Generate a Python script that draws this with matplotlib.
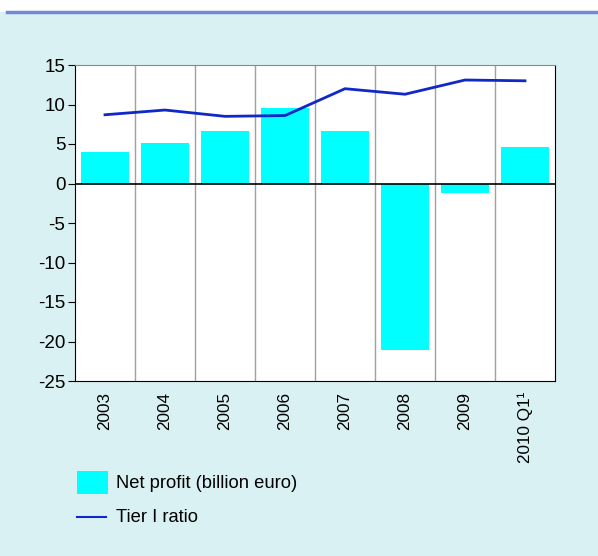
import matplotlib
matplotlib.use("Agg")
import matplotlib.pyplot as plt
from matplotlib.patches import Rectangle
from matplotlib.lines import Line2D

plt.rcParams['font.family'] = ['Liberation Sans', 'DejaVu Sans']
plt.rcParams['axes.unicode_minus'] = False

years = ['2003', '2004', '2005', '2006', '2007', '2008', '2009', '2010 Q1¹']
net_profit = [4.0, 5.1, 6.6, 9.6, 6.6, -21.1, -1.2, 4.6]
tier1 = [8.7, 9.3, 8.5, 8.6, 12.0, 11.3, 13.1, 13.0]

bg = '#d9f1f2'
fig = plt.figure(figsize=(5.98, 5.56), dpi=100, facecolor=bg)
# white strip on top with the blue rule
fig.patches.append(Rectangle((0, 1 - 12 / 556), 1, 12 / 556, transform=fig.transFigure,
                             facecolor='white', edgecolor='none', zorder=0))
fig.lines.append(Line2D([7 / 598, 1], [1 - 12 / 556] * 2, transform=fig.transFigure,
                        color='#7487d8', lw=2.5))

ax = fig.add_axes([75 / 598, 1 - 381 / 556, 480 / 598, 316 / 556])
ax.set_facecolor('white')
x = range(len(years))
ax.bar(x, net_profit, width=0.8, color='#00ffff', zorder=2)
ax.plot(x, tier1, color='#1028c8', lw=2, zorder=3)
ax.axhline(0, color='black', lw=1.2, zorder=4)
for b in range(1, len(years)):
    ax.axvline(b - 0.5, color='#a0a0a0', lw=1, zorder=1)

ax.set_xlim(-0.5, len(years) - 0.5)
ax.set_ylim(-25, 15)
ax.set_yticks(range(-25, 16, 5))
ax.set_xticks(list(x))
ax.set_xticklabels(years, rotation=90, fontsize=12.3, va='top')
ax.tick_params(axis='x', length=0, pad=8)
ax.tick_params(axis='y', length=5, labelsize=13.5, pad=2)
ax.spines['top'].set_color('#888888')
for s in ['left', 'right', 'bottom']:
    ax.spines[s].set_color('black')

# legend drawn in figure space
fig.patches.append(Rectangle((77 / 598, 1 - 494 / 556), 31 / 598, 23 / 556,
                             transform=fig.transFigure, facecolor='#00ffff', edgecolor='none'))
fig.text(116 / 598, 1 - 484 / 556, 'Net profit (billion euro)', fontsize=13.2, va='center')
fig.lines.append(Line2D([77 / 598, 106 / 598], [1 - 517 / 556] * 2, transform=fig.transFigure,
                        color='#1028c8', lw=1.5))
fig.text(116 / 598, 1 - 517 / 556, 'Tier I ratio', fontsize=13.2, va='center')

fig.savefig('out.png', dpi=100, facecolor=bg)
